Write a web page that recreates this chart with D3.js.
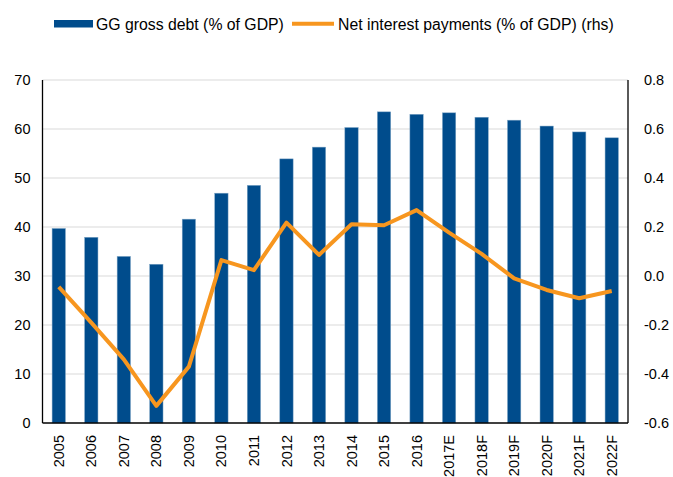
<!DOCTYPE html>
<html><head><meta charset="utf-8">
<script src="https://cdnjs.cloudflare.com/ajax/libs/d3/7.8.5/d3.min.js"></script>
<style>body{margin:0;background:#fff;} svg{display:block;font-family:"Liberation Sans",Arial,sans-serif;}</style>
</head><body><svg id="c" width="673" height="477"></svg>
<script>
const categories = ["2005","2006","2007","2008","2009","2010","2011","2012","2013","2014","2015","2016","2017E","2018F","2019F","2020F","2021F","2022F"];
const debt = [39.7,37.9,34.0,32.4,41.6,46.9,48.5,53.9,56.3,60.3,63.5,63.0,63.3,62.4,61.8,60.6,59.4,58.2];
const interest = [-0.044,-0.19,-0.34,-0.53,-0.37,0.065,0.024,0.218,0.086,0.211,0.207,0.269,0.177,0.09,-0.01,-0.057,-0.091,-0.061];
const leftTicks = [0,10,20,30,40,50,60,70];
const rightTicks = [-0.6,-0.4,-0.2,0.0,0.2,0.4,0.6,0.8];
const seriesNames = ["GG gross debt (% of GDP)","Net interest payments (% of GDP) (rhs)"];

const blue = "#004c8c", orange = "#f7961f";
const svg = d3.select("#c");
const L = 42.5, R = 628, T = 80, B = 423;
const x = d3.scaleBand().domain(categories).range([L, R]).paddingInner(0.59).paddingOuter(0.295);
const y = d3.scaleLinear().domain([0,70]).range([B, T]);
const y2 = d3.scaleLinear().domain([-0.6,0.8]).range([B, T]);

// gridlines
svg.append("g").selectAll("line").data(leftTicks.filter(d=>d>0)).join("line")
  .attr("x1", L).attr("x2", R).attr("y1", d=>y(d)).attr("y2", d=>y(d))
  .attr("stroke", "#d9d9d9").attr("stroke-width", 1.2);

// bars
svg.append("g").selectAll("rect").data(debt).join("rect")
  .attr("x", (d,i)=>x(categories[i])).attr("width", x.bandwidth())
  .attr("y", d=>y(d)).attr("height", d=>B - y(d)).attr("fill", blue)
  .attr("stroke", "#7fa6c6").attr("stroke-width", 0.5);

// line
const line = d3.line().x((d,i)=>x(categories[i]) + x.bandwidth()/2).y(d=>y2(d));
svg.append("path").datum(interest).attr("d", line).attr("fill","none")
  .attr("stroke", orange).attr("stroke-width", 4).attr("stroke-linejoin","round");

// axes
const fs = "14.5px";
const axL = svg.append("g").attr("transform", `translate(${L},0)`)
  .call(d3.axisLeft(y).tickValues(leftTicks).tickSize(0).tickPadding(12).tickFormat(d3.format("d")));
axL.select(".domain").attr("stroke","#000").attr("stroke-width",1.3).attr("d", `M0,${T}V${B}`);
axL.selectAll("text").attr("font-size", fs).attr("fill","#000").attr("font-family","Liberation Sans, Arial, sans-serif");

const axR = svg.append("g").attr("transform", `translate(${R},0)`)
  .call(d3.axisRight(y2).tickValues(rightTicks).tickSize(0).tickPadding(16).tickFormat(d3.format(".1f")));
axR.select(".domain").attr("stroke","#000").attr("stroke-width",1.3).attr("d", `M0,${T}V${B}`);
axR.selectAll("text").attr("font-size", fs).attr("fill","#000").attr("font-family","Liberation Sans, Arial, sans-serif")
  .text(d => d3.format(".1f")(d).replace("−","-"));

const axB = svg.append("g").attr("transform", `translate(0,${B})`)
  .call(d3.axisBottom(x).tickSize(0).tickPadding(0));
axB.select(".domain").attr("stroke","#000").attr("stroke-width",1.3).attr("d", `M${L},0H${R}`);
axB.selectAll("text").attr("font-size", fs).attr("fill","#000").attr("font-family","Liberation Sans, Arial, sans-serif")
  .attr("transform","rotate(-90)").attr("text-anchor","end").attr("dy","0.35em").attr("x",-12).attr("y",0);

// legend
const lfs = "15.8px";
const lg = svg.append("g");
lg.append("rect").attr("x",54).attr("y",20).attr("width",39).attr("height",7.5).attr("fill",blue);
lg.append("text").attr("x",96).attr("y",29.5).attr("font-size",lfs).text(seriesNames[0]);
lg.append("line").attr("x1",292).attr("x2",334).attr("y1",23.8).attr("y2",23.8).attr("stroke",orange).attr("stroke-width",4);
lg.append("text").attr("x",338).attr("y",29.5).attr("font-size",lfs).text(seriesNames[1]);
</script></body></html>
